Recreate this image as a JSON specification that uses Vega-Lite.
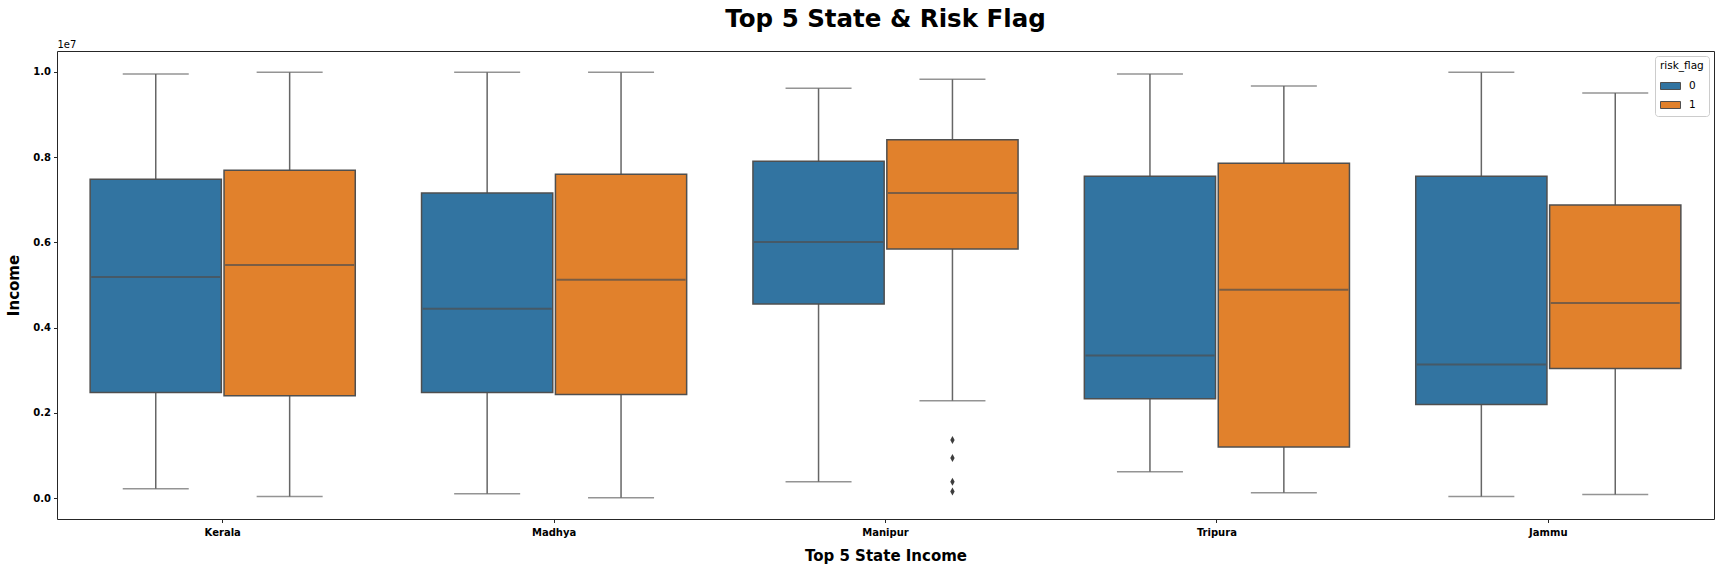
{
  "$schema": "https://vega.github.io/schema/vega-lite/v6.json",
  "autosize": {"type": "none"},
  "padding": {"left": 57, "top": 51, "right": 6, "bottom": 49},
  "width": 1657,
  "height": 468,
  "title": {"text": "Top 5 State & Risk Flag", "fontSize": 24.5, "fontWeight": "bold", "font": "DejaVu Sans", "color": "#000000", "anchor": "middle", "offset": 7},
  "config": {
    "font": "DejaVu Sans",
    "view": {"stroke": "#262626", "strokeWidth": 1},
    "axis": {"grid": false, "domain": false, "tickColor": "#262626", "tickSize": 3.5, "labelColor": "#000000", "titleColor": "#000000", "labelFontWeight": "bold", "labelFontSize": 10, "titleFontSize": 15, "titleFontWeight": "bold"}
  },
  "data": {"values": [
    {"state": "Kerala", "risk_flag": 0, "lower": 218000, "q1": 2475000, "median": 5186000, "q3": 7480000, "upper": 9950000},
    {"state": "Kerala", "risk_flag": 1, "lower": 38000, "q1": 2398000, "median": 5468000, "q3": 7694000, "upper": 9991000},
    {"state": "Madhya", "risk_flag": 0, "lower": 101000, "q1": 2475000, "median": 4444000, "q3": 7155000, "upper": 9991000},
    {"state": "Madhya", "risk_flag": 1, "lower": 7000, "q1": 2428000, "median": 5124000, "q3": 7600000, "upper": 9991000},
    {"state": "Manipur", "risk_flag": 0, "lower": 382000, "q1": 4553000, "median": 6007000, "q3": 7905000, "upper": 9616000},
    {"state": "Manipur", "risk_flag": 1, "lower": 2280000, "q1": 5843000, "median": 7155000, "q3": 8405000, "upper": 9827000},
    {"state": "Tripura", "risk_flag": 0, "lower": 616000, "q1": 2327000, "median": 3342000, "q3": 7553000, "upper": 9950000},
    {"state": "Tripura", "risk_flag": 1, "lower": 124000, "q1": 1195000, "median": 4889000, "q3": 7858000, "upper": 9670000},
    {"state": "Jammu", "risk_flag": 0, "lower": 38000, "q1": 2194000, "median": 3131000, "q3": 7553000, "upper": 9991000},
    {"state": "Jammu", "risk_flag": 1, "lower": 85000, "q1": 3038000, "median": 4577000, "q3": 6874000, "upper": 9506000}
  ]},
  "encoding": {
    "x": {"field": "state", "type": "nominal", "sort": ["Kerala", "Madhya", "Manipur", "Tripura", "Jammu"],
          "scale": {"paddingInner": 0.2, "paddingOuter": 0.1},
          "axis": {"title": "Top 5 State Income", "labelAngle": 0, "labelPadding": 5, "titlePadding": 11}},
    "xOffset": {"field": "risk_flag", "type": "nominal", "scale": {"domain": [0, 1], "paddingInner": 0.02, "paddingOuter": 0}}
  },
  "resolve": {"axis": {"y": "independent"}},
  "layer": [
    {
      "mark": {"type": "rule", "stroke": "#666666", "strokeWidth": 1.5},
      "encoding": {
        "y": {"field": "lower", "type": "quantitative",
              "scale": {"domain": [-492000, 10490000], "nice": false, "zero": false},
              "axis": {"orient": "left", "title": "Income", "values": [0, 2000000, 4000000, 6000000, 8000000, 10000000], "labelExpr": "format(datum.value / 10000000, '.1f')", "labelPadding": 3, "titlePadding": 11}},
        "y2": {"field": "upper"}
      }
    },
    {
      "mark": {"type": "bar", "stroke": "#4f4f4f", "strokeWidth": 1.5},
      "encoding": {
        "y": {"field": "q1", "type": "quantitative",
              "axis": {"orient": "left", "title": "1e7", "labels": false, "ticks": false, "domain": false, "grid": false, "titleAngle": 0, "titleX": 0, "titleY": -2, "titleAlign": "left", "titleBaseline": "bottom", "titleFontWeight": "normal", "titleFontSize": 10}},
        "y2": {"field": "q3"},
        "color": {"field": "risk_flag", "type": "nominal",
                  "scale": {"domain": [0, 1], "range": ["#3274a1", "#e1812c"]},
                  "legend": {"title": "risk_flag", "orient": "top-right", "offset": 5, "fillColor": "#ffffff", "strokeColor": "#cccccc", "cornerRadius": 3, "padding": 5, "titleFontSize": 10.5, "titleFontWeight": "normal", "titleColor": "#000000", "labelFontSize": 10.5, "labelColor": "#000000", "symbolType": "M-1,-0.35H1V0.35H-1Z", "symbolSize": 400, "symbolStrokeColor": "#4f4f4f", "symbolStrokeWidth": 1, "symbolOpacity": 1, "labelOffset": 8, "rowPadding": 3, "titlePadding": 4}}
      }
    },
    {
      "mark": {"type": "tick", "color": "#4f4f4f", "size": 129, "thickness": 2},
      "encoding": {"y": {"field": "median", "type": "quantitative", "axis": null}}
    },
    {
      "mark": {"type": "tick", "color": "#666666", "size": 66, "thickness": 1.5},
      "encoding": {"y": {"field": "lower", "type": "quantitative", "axis": null}}
    },
    {
      "mark": {"type": "tick", "color": "#666666", "size": 66, "thickness": 1.5},
      "encoding": {"y": {"field": "upper", "type": "quantitative", "axis": null}}
    },
    {
      "data": {"values": [
        {"state": "Manipur", "risk_flag": 1, "income": 1359000},
        {"state": "Manipur", "risk_flag": 1, "income": 937000},
        {"state": "Manipur", "risk_flag": 1, "income": 382000},
        {"state": "Manipur", "risk_flag": 1, "income": 155000}
      ]},
      "mark": {"type": "point", "shape": "M0,-1L0.55,0L0,1L-0.55,0Z", "size": 64, "filled": true, "color": "#3d3d3d", "opacity": 1},
      "encoding": {"y": {"field": "income", "type": "quantitative", "axis": null}}
    }
  ]
}
